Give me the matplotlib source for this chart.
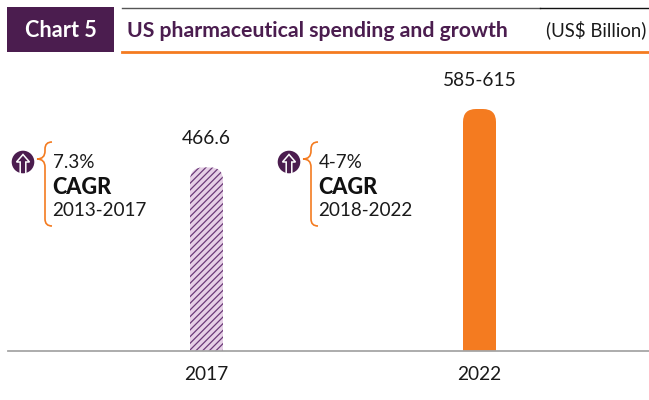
import matplotlib
matplotlib.use('Agg')
import matplotlib.pyplot as plt
from matplotlib.patches import FancyBboxPatch, Rectangle, Circle, PathPatch
from matplotlib.path import Path

plt.rcParams['font.family'] = ['Lato', 'DejaVu Sans']
plt.rcParams['hatch.linewidth'] = 0.9

PURPLE = '#4B1D4F'
ORANGE = '#F47B20'

years = ['2017', '2022']
bar_tops = [466.6, 615]
bar_labels = ['466.6', '585-615']
cagr_rates = ['7.3%', '4-7%']
cagr_periods = ['2013-2017', '2018-2022']

W, H = 649, 400
fig = plt.figure(figsize=(W / 100, H / 100), dpi=100)

# overlay in pixel coords for the header and brackets
over = fig.add_axes([0, 0, 1, 1])
over.set_xlim(0, W)
over.set_ylim(H, 0)
over.axis('off')

# plot axes: baseline at y=351, 1 category step = 273 px
ax = fig.add_axes([0, (H - 351) / H, 1, 291 / H])
step = 273
ax.set_xlim((0 - 206.5) / step, (W - 206.5) / step)
ax.set_ylim(0, 615 / 242 * 291)
ax.patch.set_alpha(0)
for s in ['top', 'left', 'right']:
    ax.spines[s].set_visible(False)
ax.spines['bottom'].set_color('#A6A6A6')
ax.spines['bottom'].set_linewidth(1.3)
ax.spines['bottom'].set_bounds((8 - 206.5) / step, (W - 206.5) / step)
ax.set_yticks([])
ax.set_xticks(range(len(years)))
ax.set_xticklabels(years, fontsize=13.8, color='#1a1a1a')
ax.tick_params(axis='x', length=0, pad=10.5)

bars = ax.bar(range(len(years)), bar_tops, width=33 / step, color=['#E6D0E6', ORANGE], linewidth=0)
bars[0].set_hatch('/////')
bars[0].set_edgecolor('#6B3A78')

# rounded tops
yscale = 615 / 242
for i, b in enumerate(bars):
    r = 13
    clip = FancyBboxPatch((b.get_x(), -100), b.get_width(), b.get_height() + 100,
                          boxstyle=f'round,pad=0,rounding_size={r / step}',
                          mutation_aspect=yscale * step,
                          transform=ax.transData, linewidth=0, facecolor='none')
    ax.add_patch(clip)
    b.set_clip_path(clip)
    ax.annotate(bar_labels[i], (b.get_x() + b.get_width() / 2, b.get_height()),
                xytext=(0, 14.5), textcoords='offset points', ha='center', va='bottom',
                fontsize=13.8, color='#1a1a1a')

# header
over.add_patch(Rectangle((7, 7), 107, 45, color=PURPLE, linewidth=0))
over.text(60.5, 30.5, 'Chart 5', color='white', fontsize=15.6, fontweight='bold', ha='center', va='center')
over.plot([122, 540], [7.5, 7.5], color='#555555', lw=1)
over.plot([540, W], [7.5, 7.5], color='#111111', lw=1)
over.plot([122, W], [51.5, 51.5], color=ORANGE, lw=2)
over.text(127, 31, 'US pharmaceutical spending and growth', color=PURPLE, fontsize=15.35,
          fontweight='bold', ha='left', va='center')
over.text(646, 30, '(US$ Billion)', color='#1a1a1a', fontsize=13.4, ha='right', va='center')


def bracket(dx):
    verts = [(52 + dx, 142), (45 + dx, 142), (45 + dx, 149),
             (45 + dx, 151), (45 + dx, 159), (37 + dx, 159),
             (45 + dx, 159), (45 + dx, 167),
             (45 + dx, 219), (45 + dx, 226), (52 + dx, 226)]
    codes = [Path.MOVETO, Path.CURVE3, Path.CURVE3,
             Path.LINETO, Path.CURVE3, Path.CURVE3,
             Path.CURVE3, Path.CURVE3,
             Path.LINETO, Path.CURVE3, Path.CURVE3]
    over.add_patch(PathPatch(Path(verts, codes), fill=False, edgecolor=ORANGE, lw=1.2))


def arrow_icon(dx):
    cx, cy = 23 + dx, 162
    over.add_patch(Circle((cx, cy), 11.3, color=PURPLE, linewidth=0))
    outline = [(cx - 2.8, cy + 11), (cx - 2.8, cy), (cx - 6.5, cy), (cx, cy - 7.5),
               (cx + 6.5, cy), (cx + 2.8, cy), (cx + 2.8, cy + 11)]
    over.plot([p[0] for p in outline], [p[1] for p in outline], color='white', lw=1.1, solid_joinstyle='miter')


for i, dx in enumerate([0, 266]):
    bracket(dx)
    arrow_icon(dx)
    over.text(52.5 + dx, 162, cagr_rates[i], fontsize=13.6, color='#1a1a1a', va='center')
    over.text(52.5 + dx, 187, 'CAGR', fontsize=15.6, fontweight='black', color='#111111', va='center')
    over.text(52.5 + dx, 210, cagr_periods[i], fontsize=13.6, color='#1a1a1a', va='center')

fig.savefig('out.png', dpi=100)
